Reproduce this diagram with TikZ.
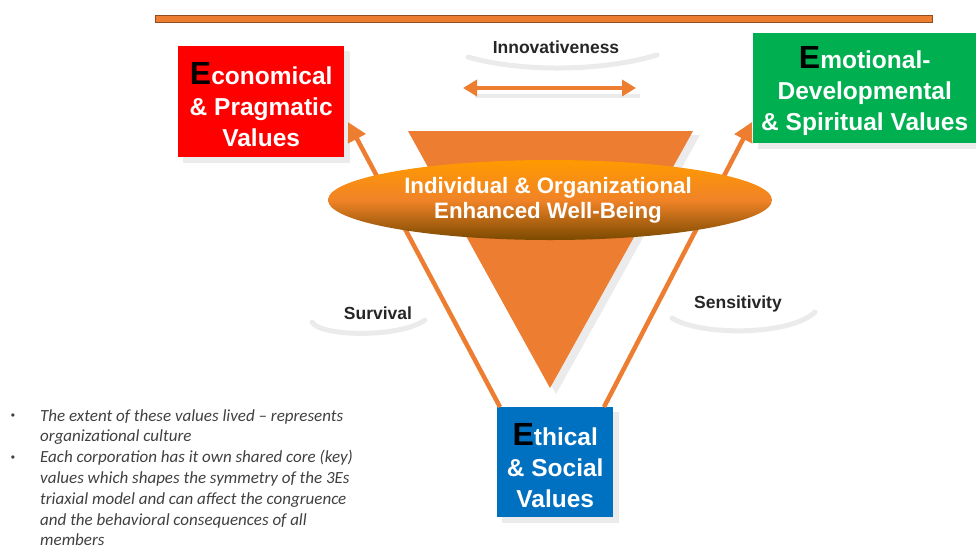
\documentclass[tikz,border=0pt]{standalone}
\usepackage{fontspec}
\setmainfont{Liberation Sans}
\newfontfamily\carl{Carlito}
\usetikzlibrary{arrows.meta,shapes.geometric}
\definecolor{orng}{HTML}{ED7D31}
\definecolor{orngdk}{HTML}{B5602A}
\definecolor{redbx}{HTML}{FF0000}
\definecolor{grnbx}{HTML}{00B050}
\definecolor{blubx}{HTML}{0070C0}
\definecolor{lbl}{HTML}{262626}
\definecolor{bultx}{HTML}{404040}
\definecolor{shad}{HTML}{EBEBEB}
\definecolor{elltop}{HTML}{FF9A00}
\definecolor{ellbot}{HTML}{7A4A00}
\tikzset{
  valbox/.style={draw=none, inner sep=0pt, align=center, text=white, font=\bfseries\fontsize{24.5}{31}\selectfont},
  arr/.style={draw=orng, line width=4.5pt, -{Triangle[length=19pt,width=19pt]}},
  lblt/.style={text=lbl, font=\bfseries\fontsize{17.5}{20}\selectfont},
  shadowarc/.style={draw=shad, line width=5pt, line cap=round},
}
\newcommand{\EE}{{\color{black}\fontsize{32}{31}\selectfont E}}
\begin{document}
\begin{tikzpicture}[x=1pt,y=-1pt]
\useasboundingbox (0,0) rectangle (976,547);
\clip (0,0) rectangle (976,547);
% top bar
\node[draw=orngdk!80!black, fill=orng, line width=0.6pt, minimum width=777pt, minimum height=7pt, inner sep=0pt, anchor=north west] (bar) at (155,15) {};
% label shadows
\draw[shadowarc] (468,57) .. controls (520,72) and (600,72) .. (657,55);
\draw[shadowarc] (312,322) .. controls (320,337) and (400,338) .. (425,320);
\draw[shadowarc] (672,318) .. controls (700,336) and (790,336) .. (815,312);
% triangle shadow & triangle
\fill[shad] (414,135) -- (700,135) -- (556,394) -- cycle;
\fill[orng] (408,131) coordinate (tl) -- (693,131) coordinate (tr) -- (550,388) coordinate (apex) -- cycle;
% box shadows
\fill[shad] (183,51) rectangle (350,163);
\fill[shad] (758,38) rectangle (976,149);
\fill[shad] (502,412) rectangle (619,523);
% boxes
\node[valbox, fill=redbx, minimum width=166pt, minimum height=111pt, anchor=north west] (econ) at (178,46) {};
\node[valbox, anchor=center] (econt) at ([yshift=-3pt]econ.center) {\EE conomical\\\& Pragmatic\\Values};
\node[valbox, fill=grnbx, minimum width=223pt, minimum height=110pt, anchor=north west] (emo) at (753,33) {};
\node[valbox, anchor=center] (emot) at ([yshift=-3pt]emo.center) {\EE motional-\\Developmental\\\& Spiritual Values};
\node[valbox, fill=blubx, minimum width=116pt, minimum height=110pt, anchor=north west] (eth) at (497,407) {};
\node[valbox, anchor=center] (etht) at ([yshift=-3pt]eth.center) {\EE thical\\\& Social\\Values};
% arrows
\coordinate (lstart) at (500,407);
\coordinate (rstart) at (604,407);
\coordinate (lend) at (348,122);
\coordinate (rend) at (752,122);
\draw[arr] (lstart) -- (lend);
\draw[arr] (rstart) -- (rend);
% ellipse
\shade[top color=elltop, bottom color=ellbot, middle color=orng!80!elltop] (550,200) ellipse (222pt and 40pt);
\node[text=white, font=\bfseries\fontsize{22.3}{25}\selectfont, align=center] (well) at (548,200) {Individual \& Organizational\\Enhanced Well-Being};
% double arrow
\coordinate (da) at (463,88);
\coordinate (db) at (636,88);
\draw[draw=shad, line width=4pt] (475,96) -- (640,96);
\draw[draw=orng, line width=4pt, {Triangle[length=14pt,width=16pt]}-{Triangle[length=14pt,width=16pt]}] (da) -- (db);
% labels
\node[lblt] (inno) at (556,47) {Innovativeness};
\node[lblt] (surv) at (378,313) {Survival};
\node[lblt] (sens) at (738,304) {Sensitivity};
% bullets
\node[anchor=north west, text=bultx, font=\carl\itshape\fontsize{17}{20.8}\selectfont, align=left, inner sep=0pt] (notes) at (40,409) {The extent of these values lived – represents\\organizational culture\\Each corporation has it own shared core (key)\\values which shapes the symmetry of the 3Es\\triaxial model and can affect the congruence\\and the behavioral consequences of all\\members};
\node[text=bultx, font=\fontsize{12}{12}\selectfont, inner sep=0pt] (b1) at (13,417) {\textbullet};
\node[text=bultx, font=\fontsize{12}{12}\selectfont, inner sep=0pt] (b2) at (13,459) {\textbullet};
\end{tikzpicture}
\end{document}
